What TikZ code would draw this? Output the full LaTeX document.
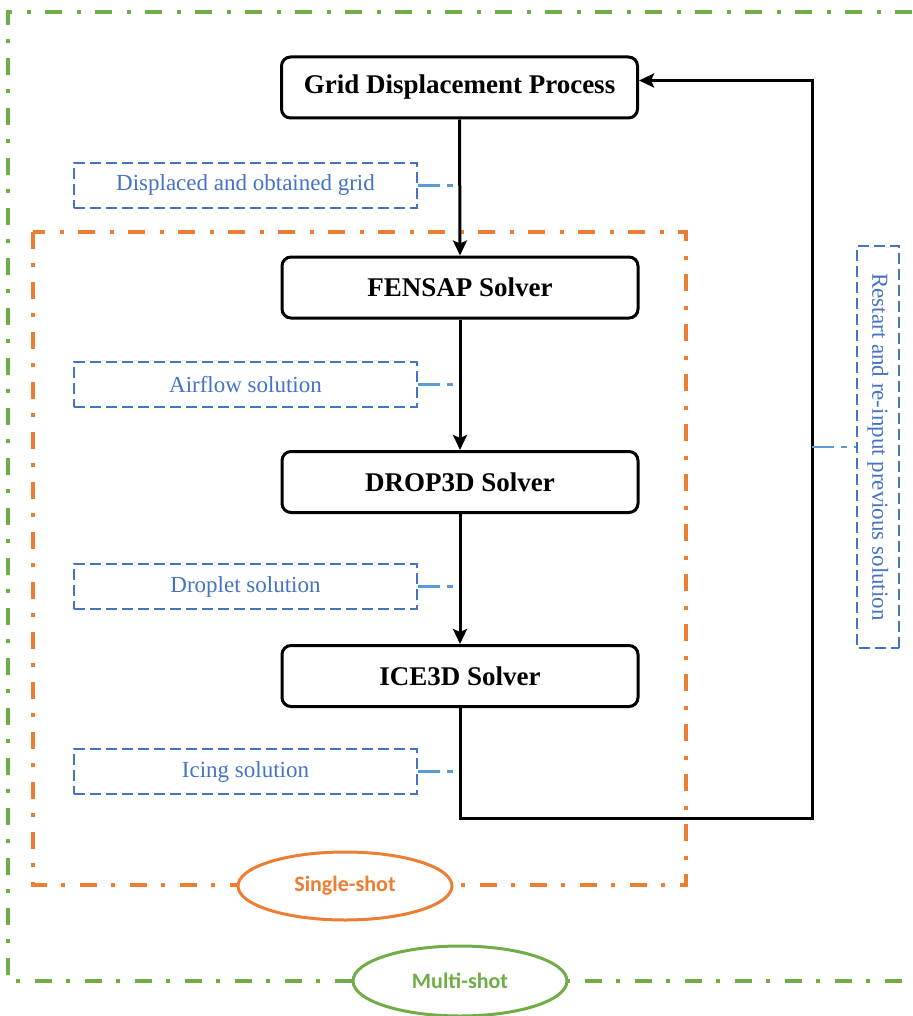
\documentclass[tikz,border=0pt]{standalone}
\usepackage{fontspec}
\setmainfont{Liberation Serif}
\newfontfamily\calibrifont{Carlito}
\usetikzlibrary{arrows.meta,shapes.geometric}

\newlength{\du}
\setlength{\du}{1pt}

\definecolor{singlecolor}{RGB}{237,125,49}
\definecolor{multicolor}{RGB}{112,173,71}
\definecolor{labelcolor}{RGB}{68,114,196}
\definecolor{calloutcolor}{RGB}{91,155,213}

\tikzset{
  solverbox/.style={draw=black, line width=3\du, rounded corners=9\du, fill=white,
    minimum width=356\du, minimum height=61\du, inner sep=0pt,
    font=\fontsize{27}{32}\selectfont\bfseries},
  labelbox/.style={draw=labelcolor, line width=1.8\du, dash pattern=on 11\du off 5\du,
    minimum width=343\du, minimum height=45\du, inner sep=0pt, text=labelcolor,
    font=\fontsize{23}{27}\selectfont},
  callout/.style={draw=calloutcolor, line width=2.5\du, dash pattern=on 22\du off 7\du on 6\du off 7\du},
  flow/.style={draw=black, line width=3\du, -{Stealth[length=15pt,width=14pt,inset=3pt]}},
  frame/.style={line width=4\du, dash pattern=on 17\du off 14\du on 4\du off 15\du},
  shotlabel/.style={ellipse, line width=3\du, fill=white, minimum width=214\du,
    minimum height=68\du, inner sep=0pt, font=\calibrifont\fontsize{22}{26}\selectfont\bfseries}
}

\begin{document}
\begin{tikzpicture}[x=1\du, y=-1\du]
\useasboundingbox (0,0) rectangle (912,1016);
% frames
\draw[frame, multicolor] (912,12) -- (8,12) -- (8,981) -- (912,981);
\draw[frame, singlecolor] (33,232) rectangle (686,885);

% solvers
\node[solverbox] (grid) at (459.5,87.5) {Grid Displacement Process};
\node[solverbox] (fensap) at (460,287.5) {FENSAP Solver};
\node[solverbox] (drop) at (460,482) {DROP3D Solver};
\node[solverbox] (ice) at (460,676) {ICE3D Solver};

% labels
\node[labelbox] (gridlab) at (245.5,185.5) {Displaced and obtained grid};
\node[labelbox] (airlab) at (245.5,384.5) {Airflow solution};
\node[labelbox] (droplab) at (245.5,586.5) {Droplet solution};
\node[labelbox] (icelab) at (245.5,771.5) {Icing solution};
\node[labelbox, rotate=-90, minimum width=402\du, minimum height=42\du] (restart) at (878,447)
  {Restart and re-input previous solution};

% shots
\node[shotlabel, draw=singlecolor, text=singlecolor] (single) at (345,886) {Single-shot};
\node[shotlabel, draw=multicolor, text=multicolor, minimum height=70\du] (multi) at (460,981) {Multi-shot};

% flow
\draw[flow] (grid.south) -- (fensap.north);
\draw[flow] (fensap.south) -- (drop.north);
\draw[flow] (drop.south) -- (ice.north);
\coordinate (loopcorner) at (812,818);
\draw[flow] (ice.south) |- (loopcorner) |- ([yshift=7\du]grid.east);

% callouts
\draw[callout] (gridlab.east) -- (gridlab.east -| grid.south);
\draw[callout] (airlab.east) -- (airlab.east -| grid.south);
\draw[callout] (droplab.east) -- (droplab.east -| grid.south);
\draw[callout] (icelab.east) -- (icelab.east -| grid.south);
\draw[callout] (restart.south -| loopcorner) -- (restart.south);
\end{tikzpicture}
\end{document}
